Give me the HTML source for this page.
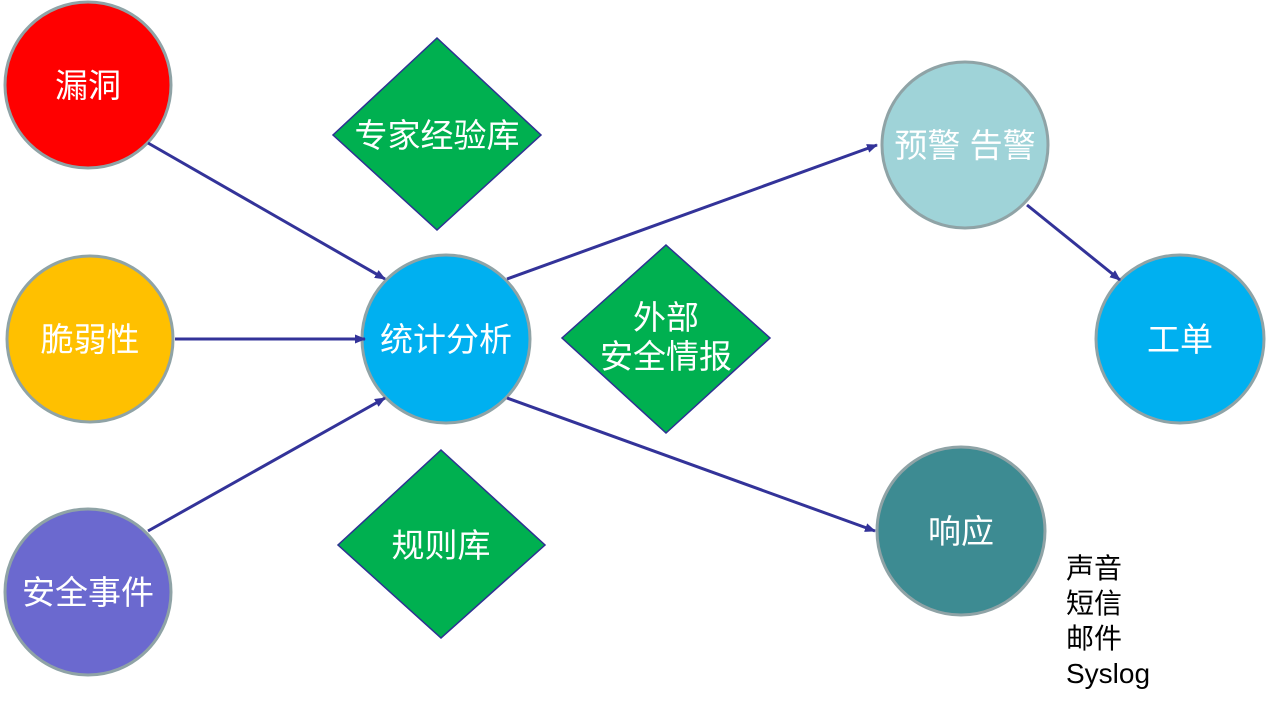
<!DOCTYPE html>
<html><head><meta charset="utf-8"><style>
html,body{margin:0;padding:0;background:#fff;}
svg text{font-family:"Liberation Sans","Noto Sans CJK SC",sans-serif;}
</style></head><body>
<svg width="1267" height="708" viewBox="0 0 1267 708" xmlns="http://www.w3.org/2000/svg">
<defs><marker id="a" markerWidth="11" markerHeight="9" refX="10" refY="4.5" orient="auto" markerUnits="userSpaceOnUse"><path d="M0,0 L11,4.5 L0,9 Z" fill="#333399"/></marker></defs>
<g stroke="#8fa3a6" stroke-width="3">
<circle cx="88" cy="85" r="83" fill="#ff0000"/>
<circle cx="90" cy="339" r="83" fill="#ffc000"/>
<circle cx="88" cy="592" r="83" fill="#6b69cf"/>
<circle cx="446" cy="339" r="84" fill="#00b0f0"/>
<circle cx="965" cy="145" r="83" fill="#9fd3d8"/>
<circle cx="1180" cy="339" r="84" fill="#00b0f0"/>
<circle cx="961" cy="531" r="84" fill="#3d8b92"/>
</g>
<g fill="#00b050" stroke="#2e3192" stroke-width="1.5">
<polygon points="437,38 541,135 437,230 333,135"/>
<polygon points="666,245 770,338 666,433 562,338"/>
<polygon points="441,450 545,545 441,638 338,545"/>
</g>
<g stroke="#333399" stroke-width="3" marker-end="url(#a)">
<line x1="148" y1="143" x2="385" y2="279"/>
<line x1="175" y1="339" x2="365" y2="339"/>
<line x1="148" y1="531" x2="385" y2="398"/>
<line x1="507" y1="279" x2="877" y2="145"/>
<line x1="507" y1="398" x2="875" y2="531"/>
<line x1="1027" y1="205" x2="1120" y2="280"/>
</g>
<g fill="#fff" font-size="33" text-anchor="middle">
<text x="88" y="97">漏洞</text>
<text x="90" y="351">脆弱性</text>
<text x="88" y="604">安全事件</text>
<text x="446" y="351">统计分析</text>
<text x="965" y="157">预警 告警</text>
<text x="1180" y="351">工单</text>
<text x="961" y="543">响应</text>
<text x="437" y="147">专家经验库</text>
<text x="666" y="329">外部</text>
<text x="666" y="368">安全情报</text>
<text x="441" y="557">规则库</text>
</g>
<g fill="#000" font-size="28">
<text x="1066" y="578">声音</text>
<text x="1066" y="613">短信</text>
<text x="1066" y="648">邮件</text>
<text x="1066" y="683">Syslog</text>
</g>
</svg>
</body></html>
